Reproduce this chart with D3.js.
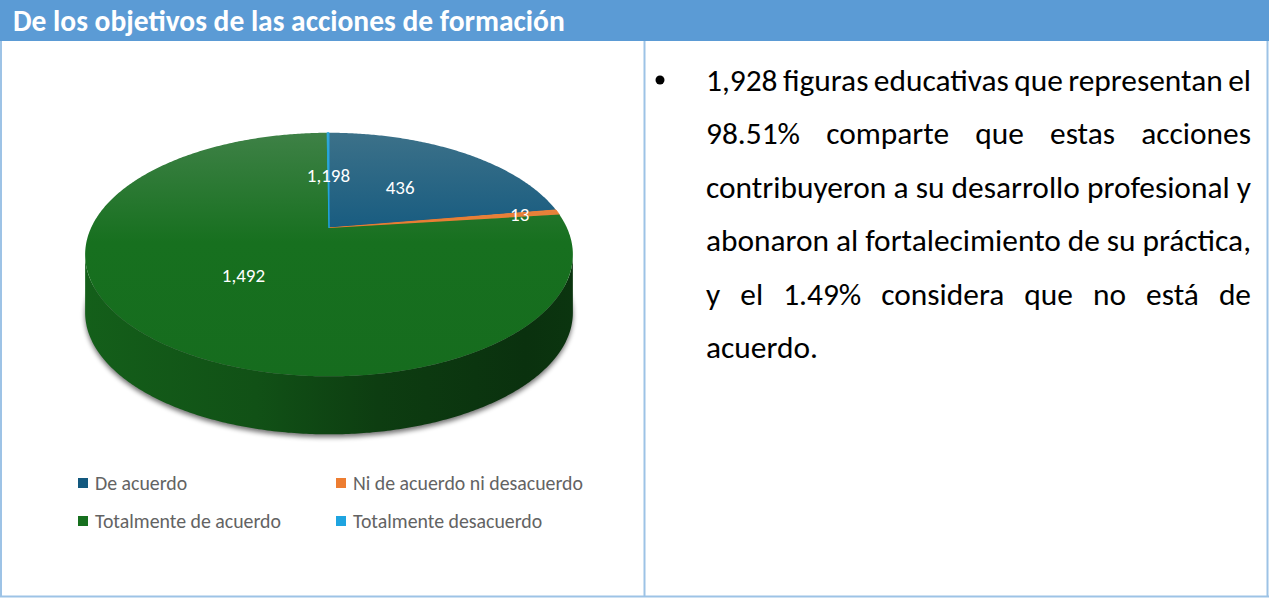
<!DOCTYPE html>
<html>
<head>
<meta charset="utf-8">
<script src="https://cdn.jsdelivr.net/npm/d3@7"></script>
<style>
  body { margin: 0; background: #fff; }
  svg { display: block; }
</style>
</head>
<body>
<div class="chartBox"></div>
<script>
//
var title = 'De los objetivos de las acciones de formación';
var categories = ['De acuerdo', 'Ni de acuerdo ni desacuerdo', 'Totalmente de acuerdo', 'Totalmente desacuerdo'];
var values = [436, 13, 1492, 3];
var valueLabels = ['436', '13', '1,492', '1,198'];
var colors = ['#13597f', '#ed7d31', '#17701f', '#1ea4e0'];
var textLines = [
  '1,928 figuras educativas que representan el',
  '98.51% comparte que estas acciones',
  'contribuyeron a su desarrollo profesional y',
  'abonaron al fortalecimiento de su práctica,',
  'y el 1.49% considera que no está de',
  'acuerdo.'
];

var w = 1269, h = 598;
var font = 'Carlito, Lato, sans-serif';
var border = '#9dc3e6';
// how far out each data label sits (fraction of radius), like excel best fit
var labelRadius = [0.5, 0.83, 0.5, 0.5];

var svg = d3.select('div.chartBox')
  .append('svg')
  .attr('width', w)
  .attr('height', h);

var defs = svg.append('defs');

// table frame
svg.append('rect')
  .attr('x', 0).attr('y', 0).attr('width', w).attr('height', 41)
  .attr('fill', '#5b9bd5');
svg.append('line').attr('x1', 1).attr('x2', 1).attr('y1', 41).attr('y2', 597)
  .attr('stroke', border).attr('stroke-width', 2);
svg.append('line').attr('x1', 644.5).attr('x2', 644.5).attr('y1', 41).attr('y2', 597)
  .attr('stroke', border).attr('stroke-width', 2);
svg.append('line').attr('x1', 1267.5).attr('x2', 1267.5).attr('y1', 41).attr('y2', 597)
  .attr('stroke', border).attr('stroke-width', 2);
svg.append('line').attr('x1', 0).attr('x2', w).attr('y1', 596.5).attr('y2', 596.5)
  .attr('stroke', border).attr('stroke-width', 2);

function fitWidth(sel, target) {
  var len = sel.node().getComputedTextLength();
  var fs = parseFloat(sel.attr('font-size'));
  sel.attr('font-size', fs * target / len);
}

var head = svg.append('text')
  .attr('x', 13).attr('y', 31)
  .attr('font-family', font).attr('font-weight', 'bold')
  .attr('font-size', 22).attr('fill', '#fff')
  .text(title);
fitWidth(head, 552);

// ---- 3D pie ----
var cx = 329, cy = 228, R = 238, Ry = 116, k = 0.218, depth = 58;

function proj(a, f, dy) {
  var u = f * Math.sin(a), v = f * Math.cos(a);
  var s = 1 / (1 + k * v);
  return [cx + R * u * s, cy - Ry * v * s + (dy || 0)];
}

function arcPts(a0, a1, dy) {
  var n = Math.max(2, Math.ceil((a1 - a0) / 0.01));
  return d3.range(n + 1).map(function(i) { return proj(a0 + (a1 - a0) * i / n, 1, dy); });
}

var line = d3.line();
var pie = d3.pie().sort(null).value(function(d) { return d; });
var arcs = pie(values);

var frontL = Math.acos(-k), frontR = 2 * Math.PI - Math.acos(-k);

// gradients
arcs.forEach(function(d, i) {
  var c = d3.color(colors[i]);
  var g = defs.append('linearGradient')
    .attr('id', 'top' + i).attr('gradientUnits', 'userSpaceOnUse')
    .attr('x1', 0).attr('x2', 0).attr('y1', cy - Ry / (1 + k)).attr('y2', cy + Ry / (1 - k));
  g.append('stop').attr('offset', 0).attr('stop-color', d3.interpolateRgb(c, '#9aa9a0')(0.3));
  g.append('stop').attr('offset', 0.45).attr('stop-color', c.formatHex());
  g.append('stop').attr('offset', 1).attr('stop-color', c.darker(0.1).formatHex());

  var s = defs.append('linearGradient')
    .attr('id', 'side' + i).attr('gradientUnits', 'userSpaceOnUse')
    .attr('x1', cx - R * 1.03).attr('x2', cx + R * 1.03).attr('y1', 0).attr('y2', 0);
  s.append('stop').attr('offset', 0).attr('stop-color', c.darker(0.45).formatHex());
  s.append('stop').attr('offset', 0.35).attr('stop-color', c.darker(0.9).formatHex());
  s.append('stop').attr('offset', 0.6).attr('stop-color', c.darker(1.7).formatHex());
  s.append('stop').attr('offset', 0.9).attr('stop-color', c.darker(2.3).formatHex());
  s.append('stop').attr('offset', 1).attr('stop-color', c.darker(2.1).formatHex());
});

var blur = defs.append('filter').attr('id', 'shadow')
  .attr('x', '-10%').attr('y', '-10%').attr('width', '120%').attr('height', '130%');
blur.append('feGaussianBlur').attr('stdDeviation', 2.5);

var pieG = svg.append('g');

// shadow under the pie
pieG.append('path')
  .attr('d', line(arcPts(0, 2 * Math.PI, depth + 2)) + 'Z')
  .attr('transform', 'translate(0,1)')
  .attr('fill', '#000').attr('opacity', 0.55)
  .attr('filter', 'url(#shadow)');

// side walls
arcs.forEach(function(d, i) {
  var a0 = Math.max(d.startAngle, frontL), a1 = Math.min(d.endAngle, frontR);
  if (a1 <= a0) return;
  var pts = arcPts(a0, a1, 0).concat(arcPts(a0, a1, depth).reverse());
  pieG.append('path')
    .attr('d', line(pts) + 'Z')
    .attr('fill', 'url(#side' + i + ')');
});

// top faces
arcs.forEach(function(d, i) {
  var pts = [proj(0, 0)].concat(arcPts(d.startAngle, d.endAngle, 0));
  pieG.append('path')
    .attr('d', line(pts) + 'Z')
    .attr('fill', 'url(#top' + i + ')')
    .attr('stroke', d.endAngle - d.startAngle < 0.05 ? colors[i] : 'none')
    .attr('stroke-width', 1);
});

// data labels
pieG.selectAll('text.lbl')
  .data(arcs)
  .enter()
  .append('text')
  .attr('class', 'lbl')
  .attr('x', function(d, i) { return proj((d.startAngle + d.endAngle) / 2, labelRadius[i])[0]; })
  .attr('y', function(d, i) { return proj((d.startAngle + d.endAngle) / 2, labelRadius[i])[1]; })
  .attr('text-anchor', 'middle')
  .attr('dominant-baseline', 'central')
  .attr('font-family', font).attr('font-size', 19)
  .attr('fill', '#fff')
  .text(function(d, i) { return valueLabels[i]; });

// legend
var legPos = [[78, 483], [336, 483], [78, 521], [336, 521]];
var leg = svg.selectAll('g.leg')
  .data(categories)
  .enter()
  .append('g')
  .attr('class', 'leg')
  .attr('transform', function(d, i) { return 'translate(' + legPos[i][0] + ',' + legPos[i][1] + ')'; });
leg.append('rect')
  .attr('x', 0).attr('y', -5).attr('width', 10).attr('height', 10)
  .attr('fill', function(d, i) { return colors[i]; });
var legText = leg.append('text')
  .attr('x', 17).attr('y', 0)
  .attr('dominant-baseline', 'central')
  .attr('font-family', font).attr('font-size', 16)
  .attr('fill', '#636363')
  .text(function(d) { return d; });
var longest = legText.filter(function(d, i) { return i === 1; });
fitWidth(longest, 230);
legText.attr('font-size', longest.attr('font-size'));

// paragraph, justified
var x0 = 706, x1 = 1251, base = 91, lh = 53.4;
svg.append('circle').attr('cx', 660).attr('cy', 80).attr('r', 4.5).attr('fill', '#000');

var probe = svg.append('text')
  .attr('font-family', font).attr('font-size', 28)
  .text(textLines[2]);
fitWidth(probe, x1 - x0);
var fs = parseFloat(probe.attr('font-size'));
probe.remove();

textLines.forEach(function(t, li) {
  var words = t.split(' ');
  var y = base + li * lh;
  var g = svg.append('g');
  var ws = words.map(function(wd) {
    return g.append('text')
      .attr('y', y)
      .attr('font-family', font).attr('font-size', fs)
      .attr('fill', '#000')
      .text(wd);
  });
  var widths = ws.map(function(s) { return s.node().getComputedTextLength(); });
  var total = d3.sum(widths);
  var last = li === textLines.length - 1;
  var gap = (last || words.length < 2) ? fs * 0.23 : (x1 - x0 - total) / (words.length - 1);
  var x = x0;
  ws.forEach(function(s, j) {
    s.attr('x', x);
    x += widths[j] + gap;
  });
});
</script>
</body>
</html>
